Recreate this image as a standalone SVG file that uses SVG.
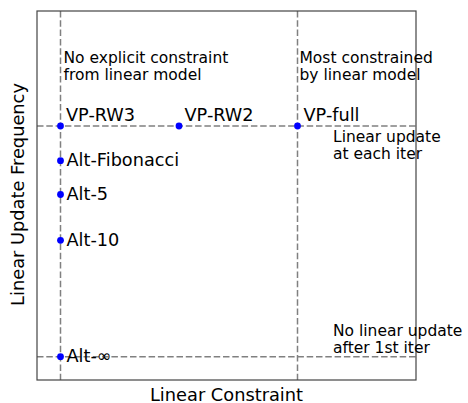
<svg xmlns="http://www.w3.org/2000/svg" width="468" height="403" viewBox="0 0 468 403">
<style>
text{font-family:"DejaVu Sans","Liberation Sans",sans-serif;fill:#000}
.lab{font-size:17.7px}
.ann{font-size:15.5px}
.ax{font-size:17.8px}
.guide{stroke:#808080;stroke-width:1.5;stroke-dasharray:6.5 2.8;fill:none}
.spine{stroke:#444;stroke-width:1.2;fill:none}
.pt{fill:#0000ff}
</style>
<rect width="468" height="403" fill="#fff"/>
<g id="connectors">
<line class="guide" x1="60.5" y1="11" x2="60.5" y2="380"/>
<line class="guide" x1="297.5" y1="11" x2="297.5" y2="380"/>
<line class="guide" x1="37" y1="126" x2="416" y2="126"/>
<line class="guide" x1="37" y1="356.7" x2="416" y2="356.7"/>
</g>
<g id="axes">
<rect class="spine" x="37" y="11" width="379" height="369"/>
<text class="ax" x="226.5" y="400.5" text-anchor="middle">Linear Constraint</text>
<text class="ax" transform="translate(23.5,194.5) rotate(-90)" text-anchor="middle">Linear Update Frequency</text>
</g>
<g id="annotations">
<text class="ann" x="63.5" y="62.5">No explicit constraint</text>
<text class="ann" x="63.5" y="79.5">from linear model</text>
<text class="ann" x="299.5" y="62.5">Most constrained</text>
<text class="ann" x="299.5" y="79.5">by linear model</text>
<text class="ann" x="333" y="142.3">Linear update</text>
<text class="ann" x="333" y="159.3">at each iter</text>
<text class="ann" x="333" y="336">No linear update</text>
<text class="ann" x="333" y="353">after 1st iter</text>
</g>
<g id="vp-rw3"><circle class="pt" cx="60.5" cy="126" r="3.4"/><text class="lab" x="66" y="121">VP-RW3</text></g>
<g id="vp-rw2"><circle class="pt" cx="179" cy="126" r="3.4"/><text class="lab" x="184.5" y="121">VP-RW2</text></g>
<g id="vp-full"><circle class="pt" cx="297.5" cy="126" r="3.4"/><text class="lab" x="303.5" y="121">VP-full</text></g>
<g id="alt-fibonacci"><circle class="pt" cx="60.5" cy="160.7" r="3.4"/><text class="lab" x="66.5" y="166">Alt-Fibonacci</text></g>
<g id="alt-5"><circle class="pt" cx="60.5" cy="194.5" r="3.4"/><text class="lab" x="66.5" y="200">Alt-5</text></g>
<g id="alt-10"><circle class="pt" cx="60.5" cy="240.3" r="3.4"/><text class="lab" x="66.5" y="246">Alt-10</text></g>
<g id="alt-inf"><circle class="pt" cx="60.5" cy="356.7" r="3.4"/><text class="lab" x="66.5" y="362">Alt-∞</text></g>
</svg>
